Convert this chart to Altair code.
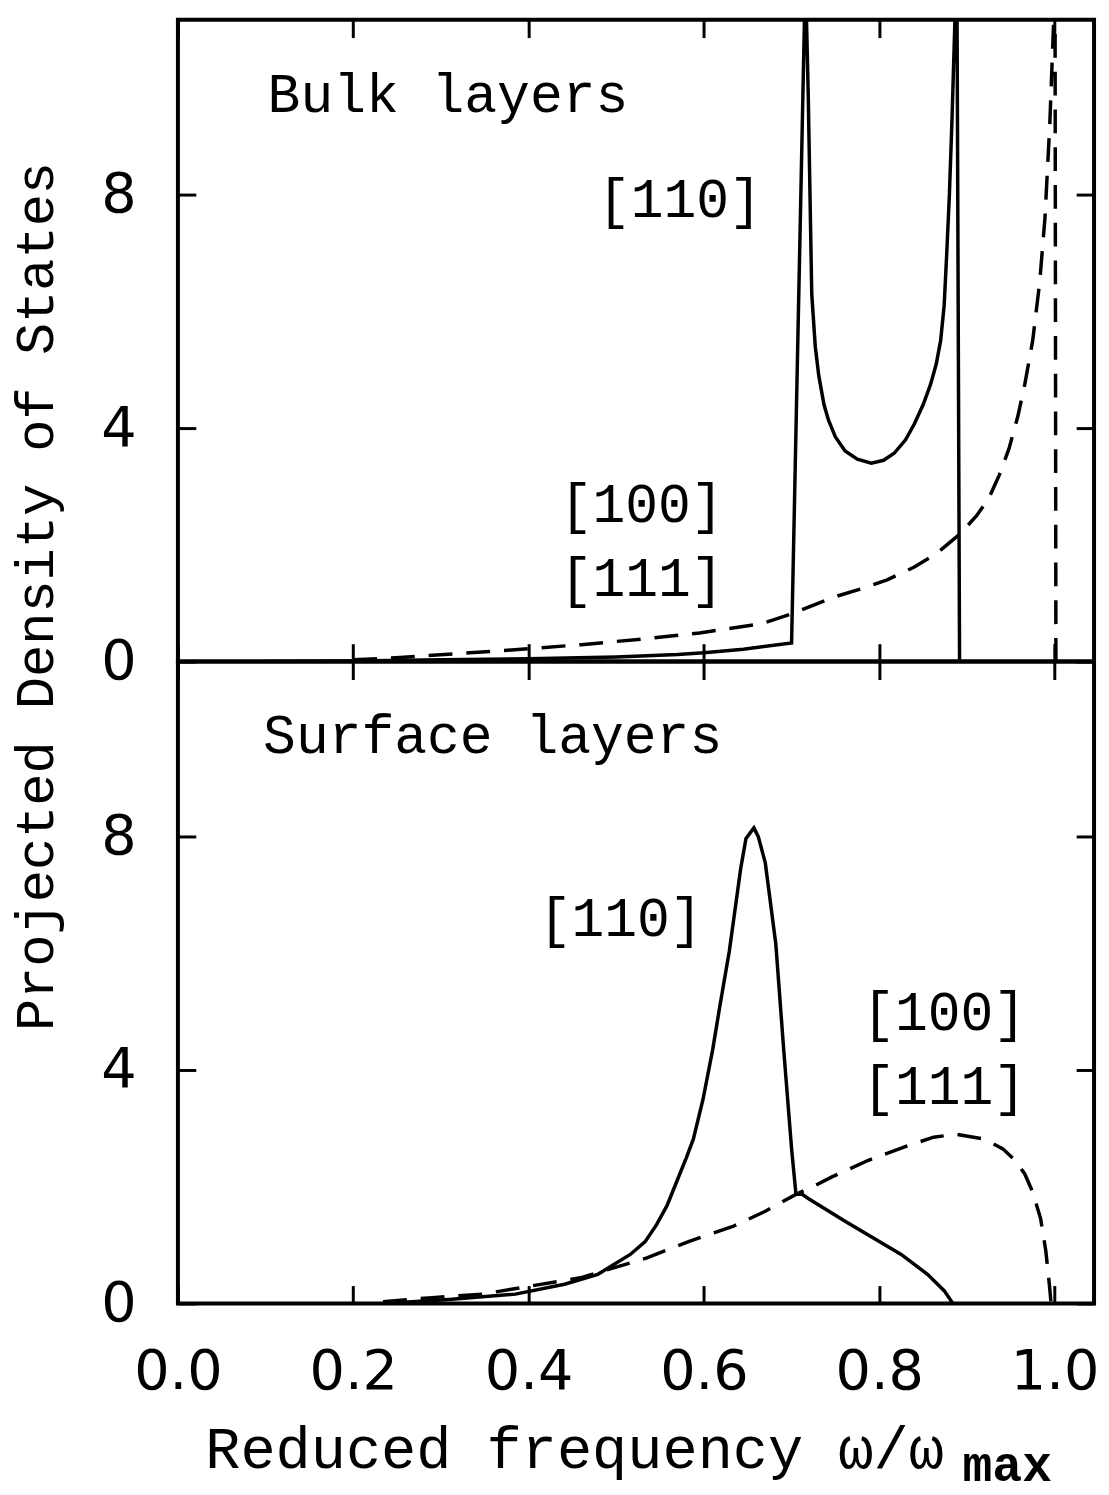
import altair as alt
import pandas as pd

# ---------------- data ----------------
x_ticks = [0.0, 0.2, 0.4, 0.6, 0.8, 1.0]
y_ticks = [0, 4, 8]

# Bulk layers, [110] (solid)
bulk110_x = [0.10, 0.20, 0.30, 0.40, 0.50, 0.57, 0.60, 0.645, 0.700, 0.7155,
             0.717, 0.719, 0.723, 0.727, 0.731, 0.737, 0.742, 0.750, 0.761,
             0.775, 0.791, 0.805, 0.817, 0.830, 0.840, 0.850, 0.8585, 0.865,
             0.870, 0.874, 0.877, 0.880, 0.883, 0.8875, 0.8886, 0.8916]
bulk110_y = [0.0, 0.01, 0.03, 0.05, 0.08, 0.12, 0.15, 0.21, 0.32, 11.6,
             11.0, 9.7, 6.3, 5.4, 4.9, 4.4, 4.14, 3.85, 3.61,
             3.47, 3.40, 3.45, 3.57, 3.80, 4.07, 4.40, 4.75, 5.10,
             5.50, 6.10, 7.00, 8.00, 9.30, 11.6, 11.6, 0.0]

# Bulk layers, [100]/[111] (dashed)
bulk100_x = [0.20, 0.253, 0.333, 0.40, 0.46, 0.525, 0.595, 0.666, 0.700, 0.747,
             0.780, 0.809, 0.840, 0.866, 0.893, 0.911, 0.925, 0.937, 0.948,
             0.958, 0.966, 0.975, 0.983, 0.989, 0.9945, 0.9985, 1.0005, 1.0015]
bulk100_y = [0.03, 0.07, 0.15, 0.22, 0.29, 0.38, 0.49, 0.65, 0.82, 1.10,
             1.25, 1.40, 1.62, 1.86, 2.20, 2.50, 2.80, 3.20, 3.65,
             4.20, 4.75, 5.50, 6.50, 7.60, 9.20, 10.8, 11.6, 0.0]

# Surface layers, [110] (solid)
surf110_x = [0.234, 0.309, 0.385, 0.441, 0.479, 0.516, 0.533, 0.546, 0.558,
             0.569, 0.580, 0.588, 0.599, 0.610, 0.618, 0.629, 0.642, 0.648,
             0.657, 0.662, 0.670, 0.682, 0.691, 0.700, 0.705, 0.712, 0.719,
             0.761, 0.825, 0.855, 0.874, 0.884]
surf110_y = [0.0, 0.07, 0.16, 0.33, 0.50, 0.84, 1.06, 1.35, 1.68,
             2.09, 2.50, 2.82, 3.50, 4.35, 5.08, 6.04, 7.46, 7.97,
             8.15, 8.00, 7.55, 6.16, 4.35, 2.65, 1.87, 1.87, 1.80,
             1.41, 0.84, 0.50, 0.22, 0.0]

# Surface layers, [100]/[111] (dashed)
surf100_x = [0.234, 0.290, 0.347, 0.403, 0.459, 0.497, 0.535, 0.584, 0.633,
             0.670, 0.705, 0.728, 0.746, 0.787, 0.832, 0.862, 0.888, 0.919,
             0.941, 0.955, 0.966, 0.975, 0.984, 0.990, 0.994, 0.996]
surf100_y = [0.03, 0.10, 0.16, 0.30, 0.44, 0.61, 0.78, 1.07, 1.32,
             1.58, 1.87, 2.03, 2.17, 2.45, 2.70, 2.85, 2.90, 2.82,
             2.65, 2.45, 2.22, 1.91, 1.46, 0.90, 0.33, 0.0]

# Annotations (data coordinates)
bulk_lab_t = ["Bulk layers", "[110]", "[100]", "[111]"]
bulk_lab_x = [0.308, 0.5725, 0.529, 0.529]
bulk_lab_y = [9.42, 7.62, 2.40, 1.13]

surf_lab_t = ["Surface layers", "[110]", "[100]", "[111]"]
surf_lab_x = [0.359, 0.505, 0.874, 0.874]
surf_lab_y = [9.44, 6.30, 4.69, 3.41]

sub_lab_t = ["max"]
sub_lab_x = [0.946]
sub_lab_y = [-3.05]

# ---------------- chart ----------------
XDOM = [0, 1.045]
YDOM = [0, 11]
W, H = 922, 646
TICK = 18
TXT_FONT = "Liberation Mono"
NUM_FONT = "DejaVu Sans"


def line_df(xs, ys):
    return pd.DataFrame({"x": xs, "y": ys, "i": list(range(len(xs)))})


def lab_df(ts, xs, ys):
    return pd.DataFrame({"t": ts, "x": xs, "y": ys})


def ax(**kw):
    base = dict(domain=False, grid=False, ticks=True, tickSize=TICK,
                tickWidth=3, tickColor="black", offset=-TICK,
                labelFlush=False, labelOverlap=False)
    base.update(kw)
    return alt.Axis(**base)


def panel(solid, dashed, labels, bottom):
    xs = alt.Scale(domain=XDOM, nice=False, zero=False)
    ys = alt.Scale(domain=YDOM, nice=False)
    if bottom:
        xb = ax(orient="bottom", values=x_ticks, format=".1f",
                labelFont=NUM_FONT, labelFontSize=56, labelColor="black",
                labelPadding=42,
                title="Reduced frequency ω/ω", titleFont=TXT_FONT,
                titleFontSize=59, titleFontWeight="normal", titleColor="black",
                titleAnchor="start", titleAlign="left",
                titleBaseline="alphabetic", titleX=27, titleY=183)
        yl = ax(orient="left", values=y_ticks, labelFont=NUM_FONT,
                labelFontSize=56, labelColor="black", labelPadding=42,
                title=None)
    else:
        xb = ax(orient="bottom", values=x_ticks, labels=False, title=None)
        yl = ax(orient="left", values=y_ticks, labelFont=NUM_FONT,
                labelFontSize=56, labelColor="black", labelPadding=42,
                title="Projected Density of States", titleFont=TXT_FONT,
                titleFontSize=54, titleFontWeight="normal", titleColor="black",
                titleAngle=270, titleAlign="center",
                titleBaseline="alphabetic", titleX=-144, titleY=580)
    xt = ax(orient="top", values=x_ticks, labels=False, title=None)
    yr = ax(orient="right", values=y_ticks, labels=False, title=None)

    l1 = alt.Chart(solid).mark_line(color="black", strokeWidth=3.5, clip=True).encode(
        x=alt.X("x:Q", scale=xs, axis=xb),
        y=alt.Y("y:Q", scale=ys, axis=yl),
        order="i:Q",
    )
    l2 = alt.Chart(dashed).mark_line(color="black", strokeWidth=3.5,
                                     strokeDash=[24, 14], clip=True).encode(
        x=alt.X("x:Q", scale=xs, axis=xt),
        y=alt.Y("y:Q", scale=ys, axis=yr),
        order="i:Q",
    )
    t = alt.Chart(labels).mark_text(font=TXT_FONT, fontSize=55, align="center",
                                    baseline="alphabetic", color="black").encode(
        x=alt.X("x:Q", scale=xs, axis=None),
        y=alt.Y("y:Q", scale=ys, axis=None),
        text="t:N",
    )
    layers = [l1, l2, t]
    if bottom:
        s = alt.Chart(lab_df(sub_lab_t, sub_lab_x, sub_lab_y)).mark_text(
            font=TXT_FONT, fontSize=50, fontWeight="bold", align="center",
            baseline="alphabetic", color="black").encode(
            x=alt.X("x:Q", scale=xs, axis=None),
            y=alt.Y("y:Q", scale=ys, axis=None),
            text="t:N",
        )
        layers.append(s)
    return alt.layer(*layers).resolve_axis(x="independent", y="independent").properties(
        width=W, height=H)


top = panel(line_df(bulk110_x, bulk110_y), line_df(bulk100_x, bulk100_y),
            lab_df(bulk_lab_t, bulk_lab_x, bulk_lab_y), bottom=False)
bot = panel(line_df(surf110_x, surf110_y), line_df(surf100_x, surf100_y),
            lab_df(surf_lab_t, surf_lab_x, surf_lab_y), bottom=True)

chart = alt.vconcat(top, bot, spacing=0).properties(
    bounds="flush",
    padding={"left": 0, "top": 3, "right": 0, "bottom": 0},
    background="white",
).configure_view(stroke="black", strokeWidth=4)

chart.save("out.html", embed_options={"renderer": "svg", "actions": False})
